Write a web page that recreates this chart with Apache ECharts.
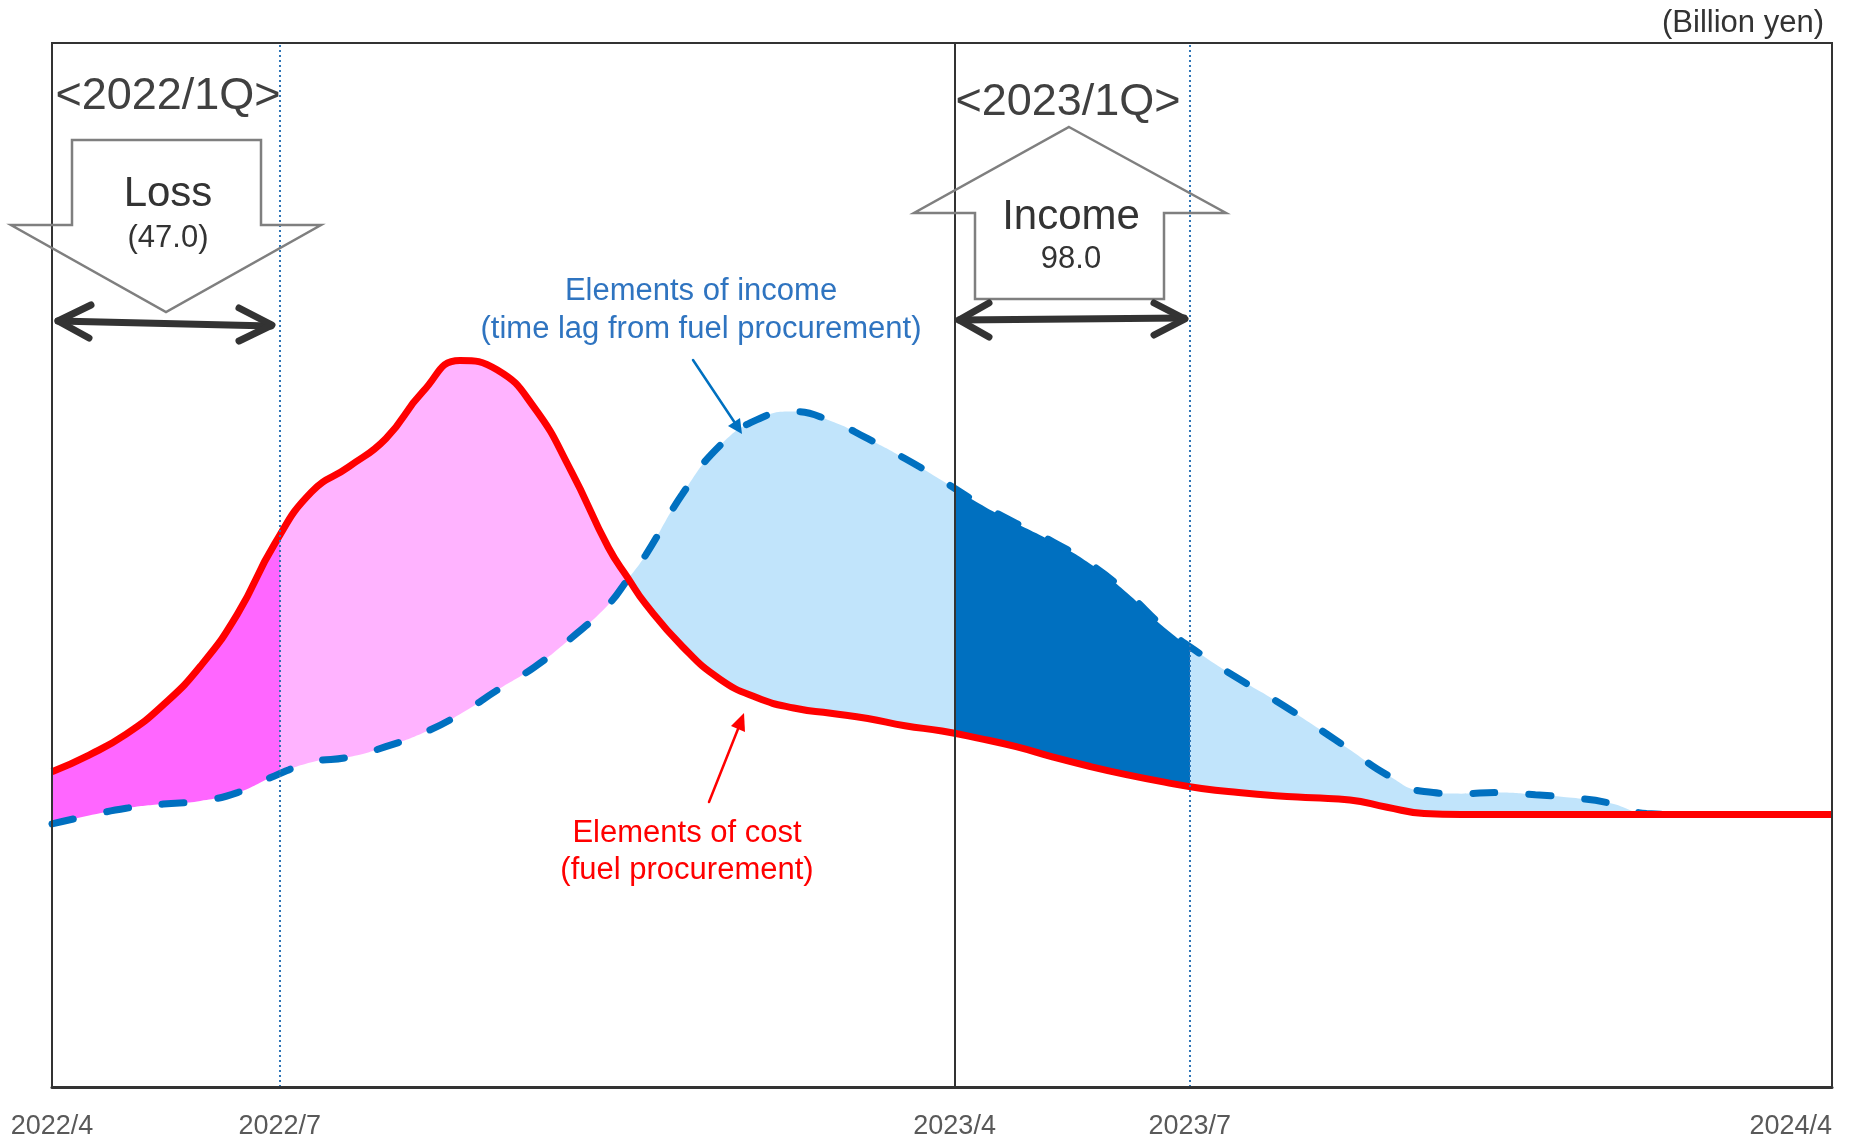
<!DOCTYPE html>
<html>
<head>
<meta charset="utf-8">
<script src="https://cdn.jsdelivr.net/npm/echarts@6/dist/echarts.min.js"></script>
<style>
html,body{margin:0;padding:0;background:#ffffff;}
#chart{width:1858px;height:1142px;}
</style>
</head>
<body>
<div id="chart"></div>
<script>
// ---- data (months since 2022/4, schematic values) ----
const months = [0,0.5,1,1.5,2,2.5,3,3.5,4,4.5,5,5.5,6,6.5,7,7.5,7.77,8,8.5,9,9.5,10,10.5,11,11.5,12,12.5,13,13.5,14,14.5,15,15.5,16,16.5,17,17.5,18,18.5,19,19.5,20,20.5,21,21.5,22,22.5,23,23.5,24];
const costValues = [30.2,31.8,33.8,36.6,40.3,45.3,52.0,57.0,59.4,62.1,66.6,69.6,68.7,65.1,59.0,51.7,48.7,46.3,42.2,39.1,37.3,36.3,35.8,35.3,34.6,34.1,33.4,32.6,31.6,30.7,29.9,29.2,28.6,28.2,27.9,27.7,27.5,26.8,26.2,26.1,26.1,26.1,26.1,26.1,26.1,26.1,26.1,26.1,26.1,26.1];
const incomeValues = [25.2,26.0,26.7,27.1,27.4,28.2,29.8,31.1,31.6,32.6,33.9,35.7,38.0,40.2,43.0,46.2,48.7,50.9,56.8,61.4,63.9,64.7,63.8,62.1,60.2,58.1,55.9,54.0,52.2,50.1,47.3,44.0,41.4,39.1,37.0,34.7,32.3,29.9,28.3,28.1,28.2,28.0,27.7,27.2,26.2,26.1,26.1,26.1,26.1,26.1];
const tickMonths = [0, 3.07, 12.17, 15.34, 24];
const tickLabels = ['2022/4', '2022/7', '2023/4', '2023/7', '2024/4'];
const crossMonth = 7.77;   // where the two curves cross

// ---- derived band pieces (value first, month second; encoded x = dim 1) ----
const crossIdx = months.indexOf(crossMonth);
const bandABase = [], bandAGap = [], bandBBase = [], bandBGap = [];
months.forEach(function (m, i) {
  if (i <= crossIdx) {
    bandABase.push([incomeValues[i], m]);
    bandAGap.push([costValues[i] - incomeValues[i], m]);
  }
  if (i >= crossIdx) {
    bandBBase.push([costValues[i], m]);
    bandBGap.push([Math.max(0, incomeValues[i] - costValues[i]), m]);
  }
});
const costData = months.map((m, i) => [costValues[i], m]);
const incomeData = months.map((m, i) => [incomeValues[i], m]);

const chart = echarts.init(document.getElementById('chart'), null, {renderer: 'canvas'});

function txt(text, x, y, size, color, family) {
  return {
    type: 'text', z: 200,
    style: {
      text: text, x: x, y: y,
      fontSize: size, fontFamily: family || 'Liberation Sans, Arial, sans-serif',
      fill: color,
      align: 'center', verticalAlign: 'middle',
      textAlign: 'center', textVerticalAlign: 'middle'
    }
  };
}
function pline(points, color, width) {
  return {
    type: 'polyline', z: 200,
    shape: {points: points},
    style: {stroke: color, lineWidth: width, fill: null, lineCap: 'round', lineJoin: 'round'}
  };
}

const smoothVal = 0.5;
const enc = {x: 1, y: 0};

const option = {
  backgroundColor: '#ffffff',
  animation: false,
  grid: {
    left: 52, right: 26, top: 43, bottom: 55, z: 10,
    show: true, borderColor: '#333333', borderWidth: 2, backgroundColor: 'transparent'
  },
  xAxis: {
    type: 'value', min: 0, max: 24, z: 10,
    axisLine: {show: true, onZero: false, lineStyle: {color: '#333333', width: 3}},
    axisTick: {show: false},
    splitLine: {show: false},
    axisLabel: {
      show: true,
      customValues: tickMonths,
      formatter: function (v) {
        for (let i = 0; i < tickMonths.length; i++) {
          if (Math.abs(tickMonths[i] - v) < 1e-6) return tickLabels[i];
        }
        return '';
      },
      color: '#595959', fontSize: 27, fontFamily: 'Liberation Sans, Arial, sans-serif',
      margin: 26, alignMaxLabel: 'right', showMaxLabel: true, showMinLabel: true
    }
  },
  yAxis: {
    type: 'value', min: 0, max: 100, show: false,
    splitLine: {show: false}
  },
  visualMap: {
    type: 'piecewise', show: false, dimension: 1, seriesIndex: [1, 3],
    pieces: [
      {lt: tickMonths[1], color: '#FF66FF'},
      {gte: tickMonths[1], lt: crossMonth, color: '#FFB3FF'},
      {gte: crossMonth, lt: tickMonths[2], color: '#C1E4FB'},
      {gte: tickMonths[2], lt: tickMonths[3], color: '#0070C0'},
      {gte: tickMonths[3], color: '#C1E4FB'}
    ]
  },
  series: [
    {
      name: 'bandA base', type: 'line', data: bandABase, encode: enc, stack: 'bandA',
      symbol: 'none', smooth: smoothVal, silent: true, z: 1,
      lineStyle: {width: 0, opacity: 0}
    },
    {
      name: 'bandA', type: 'line', data: bandAGap, encode: enc, stack: 'bandA',
      symbol: 'none', smooth: smoothVal, silent: true, z: 1,
      lineStyle: {width: 0, opacity: 0},
      areaStyle: {opacity: 1}
    },
    {
      name: 'bandB base', type: 'line', data: bandBBase, encode: enc, stack: 'bandB',
      symbol: 'none', smooth: smoothVal, silent: true, z: 1,
      lineStyle: {width: 0, opacity: 0}
    },
    {
      name: 'bandB', type: 'line', data: bandBGap, encode: enc, stack: 'bandB',
      symbol: 'none', smooth: smoothVal, silent: true, z: 1,
      lineStyle: {width: 0, opacity: 0},
      areaStyle: {opacity: 1}
    },
    {
      name: 'Elements of income', type: 'line', data: incomeData, encode: enc,
      symbol: 'none', smooth: smoothVal, silent: true, z: 3,
      lineStyle: {color: '#0070C0', width: 7, type: [22, 34], cap: 'round'}
    },
    {
      name: 'Elements of cost', type: 'line', data: costData, encode: enc,
      symbol: 'none', smooth: smoothVal, silent: true, z: 4,
      lineStyle: {color: '#FF0000', width: 7},
      markLine: {
        silent: true, symbol: 'none', label: {show: false},
        data: [
          {xAxis: tickMonths[1], lineStyle: {color: '#2E75B6', width: 2, type: [2, 3]}},
          {xAxis: tickMonths[2], lineStyle: {color: '#333333', width: 2, type: 'solid'}},
          {xAxis: tickMonths[3], lineStyle: {color: '#2E75B6', width: 2, type: [2, 3]}}
        ]
      }
    }
  ],
  graphic: [
    txt('(Billion yen)', 1743, 23, 31, '#333333'),
    txt('<2022/1Q>', 168, 97, 45, '#404040'),
    txt('<2023/1Q>', 1068, 103, 45, '#404040'),
    // Loss arrow
    {
      type: 'polygon', z: 150,
      shape: {points: [[72, 140], [261, 140], [261, 225], [321, 225], [166, 312], [11, 225], [72, 225]]},
      style: {fill: null, stroke: '#7F7F7F', lineWidth: 2.5}
    },
    txt('Loss', 168, 194, 42, '#333333'),
    txt('(47.0)', 168, 238, 31, '#333333'),
    // Income arrow
    {
      type: 'polygon', z: 150,
      shape: {points: [[1069, 127], [1226, 213], [1164, 213], [1164, 299], [975, 299], [975, 213], [914, 213]]},
      style: {fill: null, stroke: '#7F7F7F', lineWidth: 2.5}
    },
    txt('Income', 1071, 217, 42, '#333333'),
    txt('98.0', 1071, 259, 31, '#333333'),
    // double arrows
    pline([[58, 321], [271, 326]], '#333333', 7),
    pline([[91, 305], [58, 321], [89, 338]], '#333333', 7),
    pline([[239, 308], [272, 325], [239, 341]], '#333333', 7),
    pline([[959, 320], [1184, 318]], '#333333', 7),
    pline([[989, 303], [959, 320], [989, 337]], '#333333', 7),
    pline([[1154, 303], [1185, 319], [1154, 335]], '#333333', 7),
    // income annotation
    txt('Elements of income', 701, 291, 31, '#2F74C0'),
    txt('(time lag from fuel procurement)', 701, 329, 31, '#2F74C0'),
    pline([[693, 360], [735, 423]], '#0070C0', 2.5),
    {
      type: 'polygon', z: 200,
      shape: {points: [[742, 434], [728, 426], [740, 418]]},
      style: {fill: '#0070C0', stroke: null}
    },
    // cost annotation
    txt('Elements of cost', 687, 833, 31, '#FF0000'),
    txt('(fuel procurement)', 687, 870, 31, '#FF0000'),
    pline([[709, 802], [738, 729]], '#FF0000', 2.5),
    {
      type: 'polygon', z: 200,
      shape: {points: [[744, 713], [745, 732], [731, 726]]},
      style: {fill: '#FF0000', stroke: null}
    }
  ]
};

chart.setOption(option);
</script>
</body>
</html>
